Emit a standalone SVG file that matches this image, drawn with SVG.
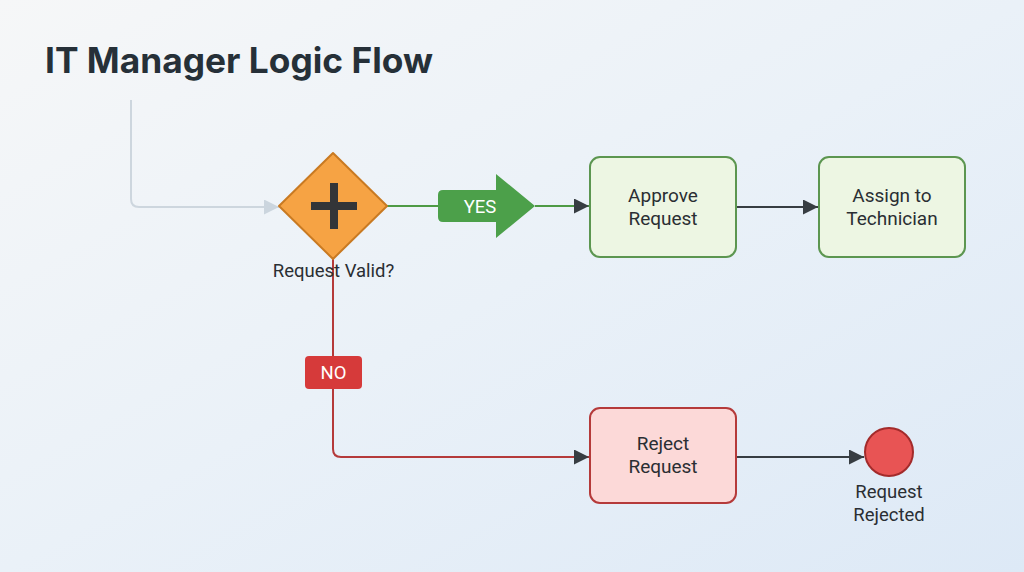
<svg xmlns="http://www.w3.org/2000/svg" width="1024" height="572" viewBox="0 0 1024 572">
<defs>
<linearGradient id="bg" x1="0" y1="0" x2="1" y2="1">
<stop offset="0" stop-color="#F6F7F8"/>
<stop offset="0.5" stop-color="#EAF1F8"/>
<stop offset="1" stop-color="#DDE9F6"/>
</linearGradient>
<marker id="ah" viewBox="0 0 10 10" refX="10" refY="5" markerWidth="15" markerHeight="15" markerUnits="userSpaceOnUse" orient="auto">
<path d="M0,0 L10,5 L0,10 z" fill="#373D42"/>
</marker>
<marker id="ahg" viewBox="0 0 10 10" refX="10" refY="5" markerWidth="15" markerHeight="15" markerUnits="userSpaceOnUse" orient="auto">
<path d="M0,0 L10,5 L0,10 z" fill="#CBD5DE"/>
</marker>
<style>
.t{font-family:Roboto,"Liberation Sans",sans-serif;fill:#2A2E33;text-anchor:middle;}
.lbl{font-size:19px;}
.green{fill:#EDF6E3;stroke:#5C9650;stroke-width:2;}
.red{fill:#FCD9D8;stroke:#B53A3A;stroke-width:2;}
.conn{fill:none;stroke-width:2;}
</style>
</defs>
<rect width="1024" height="572" fill="url(#bg)"/>
<text x="45" y="73" font-family="Inter,'Liberation Sans',sans-serif" font-weight="700" font-size="35" fill="#263038" textLength="388" lengthAdjust="spacingAndGlyphs">IT Manager Logic Flow</text>

<g id="connectors">
<path class="conn" d="M131,100 V199 Q131,207 139,207 H279" stroke="#CDD6DE" stroke-width="2" marker-end="url(#ahg)"/>
<path class="conn" d="M387,206 H440" stroke="#4E9A45"/>
<path class="conn" d="M535,206 H589" stroke="#4E9A45" marker-end="url(#ah)"/>
<path class="conn" d="M736,207 H818" stroke="#373D42" marker-end="url(#ah)"/>
<path class="conn" d="M333,259 V449 Q333,457 341,457 H589" stroke="#B53A3A" marker-end="url(#ah)"/>
<path class="conn" d="M736,457 H864" stroke="#373D42" marker-end="url(#ah)"/>
<g id="yes-label">
<path d="M443,190 H496 V174 L535,206 L496,238 V222 H443 Q438,222 438,217 V195 Q438,190 443,190 z" fill="#4CA04A"/>
<text x="480" y="212.5" font-family="Roboto,'Liberation Sans',sans-serif" font-size="18.5" fill="#FFFFFF" text-anchor="middle">YES</text>
</g>
<g id="no-label">
<rect x="305" y="356" width="57" height="33" rx="4" fill="#D63A3A"/>
<text x="333.5" y="379" font-family="Roboto,'Liberation Sans',sans-serif" font-size="18.5" fill="#FFFFFF" text-anchor="middle">NO</text>
</g>
</g>

<g id="decision">
<path d="M333,153 L387,206 L333,259 L279,206 z" fill="#F6A344" stroke="#C97A22" stroke-width="2" stroke-linejoin="round"/>
<path d="M311,206 H357 M334,183 V229" stroke="#333538" stroke-width="8"/>
<text class="t" x="333.5" y="277" font-size="18.5">Request Valid?</text>
</g>

<g id="approve">
<rect class="green" x="590" y="157" width="146" height="100" rx="10"/>
<text class="t lbl" x="663" y="202">Approve</text>
<text class="t lbl" x="663" y="225">Request</text>
</g>

<g id="assign">
<rect class="green" x="819" y="157" width="146" height="100" rx="10"/>
<text class="t lbl" x="892" y="202">Assign to</text>
<text class="t lbl" x="892" y="225">Technician</text>
</g>

<g id="reject">
<rect class="red" x="590" y="408" width="146" height="95" rx="10"/>
<text class="t lbl" x="663" y="450">Reject</text>
<text class="t lbl" x="663" y="473">Request</text>
</g>

<g id="end">
<circle cx="889" cy="452" r="24" fill="#E85454" stroke="#A32B2B" stroke-width="2"/>
<text class="t" x="889" y="498" font-size="18.5">Request</text>
<text class="t" x="889" y="521" font-size="18.5">Rejected</text>
</g>
</svg>
